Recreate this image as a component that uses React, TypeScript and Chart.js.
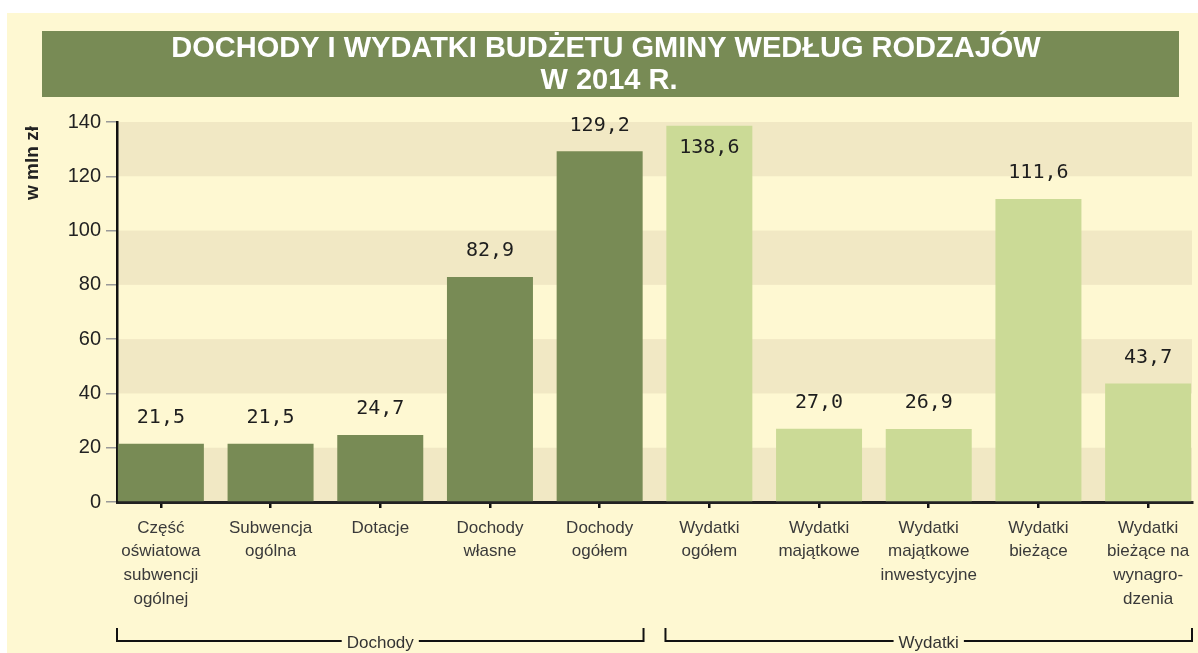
import React, { useEffect, useRef } from "react";
import { Chart, registerables } from "chart.js";

Chart.register(...registerables);

const titleLines = ["DOCHODY I WYDATKI BUDŻETU GMINY WEDŁUG RODZAJÓW", "W 2014 R."];
const categories: string[][] = [
  ["Część", "oświatowa", "subwencji", "ogólnej"],
  ["Subwencja", "ogólna"],
  ["Dotacje"],
  ["Dochody", "własne"],
  ["Dochody", "ogółem"],
  ["Wydatki", "ogółem"],
  ["Wydatki", "majątkowe"],
  ["Wydatki", "majątkowe", "inwestycyjne"],
  ["Wydatki", "bieżące"],
  ["Wydatki", "bieżące na", "wynagro-", "dzenia"],
];
const values = [21.5, 21.5, 24.7, 82.9, 129.2, 138.6, 27.0, 26.9, 111.6, 43.7];
const valueLabels = ["21,5", "21,5", "24,7", "82,9", "129,2", "138,6", "27,0", "26,9", "111,6", "43,7"];
const groupNames = ["Dochody", "Wydatki"];
const groupOf = [0, 0, 0, 0, 0, 1, 1, 1, 1, 1];
const yMin = 0;
const yMax = 140;
const yStep = 20;
const yTitle = "w mln zł";

const DARK = "#788B55";
const LIGHT = "#CBDA96";
const CREAM = "#FEF8D2";
const BAND = "#F1E8C4";

export default function App() {
  const ref = useRef<HTMLCanvasElement | null>(null);
  useEffect(() => {
    const canvas = ref.current!;
    const decor = {
      id: "decor",
      beforeDraw(chart: any) {
        const ctx = chart.ctx;
        const { left, right } = chart.chartArea;
        const y = chart.scales.y;
        ctx.save();
        ctx.fillStyle = "#ffffff";
        ctx.fillRect(0, 0, chart.width, chart.height);
        ctx.fillStyle = CREAM;
        ctx.fillRect(7, 13, chart.width - 7, chart.height - 13);
        // banner
        ctx.fillStyle = DARK;
        ctx.fillRect(42, 31, 1137, 66);
        ctx.fillStyle = "#ffffff";
        ctx.font = "bold 29px 'Liberation Sans', Arial, sans-serif";
        ctx.textAlign = "center";
        ctx.textBaseline = "middle";
        ctx.fillText(titleLines[0], 606, 49);
        ctx.fillText(titleLines[1], 609, 81);
        // bands
        ctx.fillStyle = BAND;
        for (let v = yMin; v < yMax; v += 2 * yStep) {
          const y0 = y.getPixelForValue(v);
          const y1 = y.getPixelForValue(v + yStep);
          ctx.fillRect(left, y1, right - left, y0 - y1);
        }
        ctx.restore();
      },
      afterDraw(chart: any) {
        const ctx = chart.ctx;
        const x = chart.scales.x;
        const area = chart.chartArea;
        const meta = chart.getDatasetMeta(0);
        ctx.save();
        // value labels
        ctx.font = "20px 'DejaVu Sans Mono', monospace";
        ctx.fillStyle = "#1e1e1e";
        ctx.textAlign = "center";
        ctx.textBaseline = "middle";
        meta.data.forEach((bar: any, i: number) => {
          const inside = bar.y - 35 < area.top - 10;
          const ly = inside ? bar.y + 22 : bar.y - 26;
          ctx.fillText(valueLabels[i], bar.x, ly);
        });
        // group brackets
        ctx.strokeStyle = "#111";
        ctx.lineWidth = 2;
        ctx.font = "17px 'Liberation Sans', Arial, sans-serif";
        ctx.fillStyle = "#333";
        const by = 641;
        groupNames.forEach((name, g) => {
          const idx = groupOf.map((gg, i) => (gg === g ? i : -1)).filter((i) => i >= 0);
          const x0 = x.getPixelForValue(idx[0] - 0.4);
          const x1 = x.getPixelForValue(idx[idx.length - 1] + 0.4);
          const cx = (x0 + x1) / 2;
          const tw = ctx.measureText(name).width;
          ctx.beginPath();
          ctx.moveTo(x0, 628);
          ctx.lineTo(x0, by);
          ctx.lineTo(cx - tw / 2 - 5, by);
          ctx.moveTo(cx + tw / 2 + 5, by);
          ctx.lineTo(x1, by);
          ctx.lineTo(x1, 628);
          ctx.stroke();
          ctx.fillText(name, cx, by + 2);
        });
        // y title
        ctx.translate(33, 163);
        ctx.rotate(-Math.PI / 2);
        ctx.font = "bold 19px 'Liberation Sans', Arial, sans-serif";
        ctx.fillStyle = "#222";
        ctx.fillText(yTitle, 0, 0);
        ctx.restore();
      },
    };
    const chart = new Chart(canvas, {
      type: "bar",
      data: {
        datasets: [
          {
            data: values.map((v, i) => ({ x: i, y: v })),
            backgroundColor: groupOf.map((g) => (g === 0 ? DARK : LIGHT)),
            barPercentage: 0.784,
            categoryPercentage: 1,
            borderWidth: 0,
          },
        ],
      },
      options: {
        responsive: false,
        animation: false,
        layout: { padding: { top: 122, left: 0, right: 6, bottom: 0 } },
        plugins: { legend: { display: false }, tooltip: { enabled: false }, title: { display: false } },
        scales: {
          x: {
            type: "linear",
            min: -0.4,
            max: 9.4,
            offset: false,
            afterBuildTicks: (s: any) => {
              s.ticks = categories.map((_, i) => ({ value: i }));
            },
            afterFit: (s: any) => {
              s.height = 151;
            },
            ticks: {
              autoSkip: false,
              maxRotation: 0,
              minRotation: 0,
              padding: 8,
              color: "#3a3a3a",
              font: { family: "'Liberation Sans', Arial, sans-serif", size: 17, lineHeight: 1.4 },
              callback: (v: any) => categories[Math.round(Number(v))],
            },
            grid: { offset: false, drawOnChartArea: false, drawTicks: true, tickLength: 6, color: "#111", lineWidth: 2.5 },
            border: { color: "#222", width: 3 },
          },
          y: {
            min: yMin,
            max: yMax,
            afterFit: (s: any) => {
              s.width = 117;
            },
            ticks: {
              stepSize: yStep,
              padding: 5,
              color: "#222",
              font: { family: "'Liberation Sans', Arial, sans-serif", size: 20 },
            },
            grid: { drawOnChartArea: false, drawTicks: true, tickLength: 11, color: "#999", lineWidth: 1.5 },
            border: { color: "#111", width: 2.5 },
          },
        },
      },
      plugins: [decor],
    } as any);
    return () => chart.destroy();
  }, []);
  return (
    <div style={{ position: "fixed", left: 0, top: 0, width: 1198, height: 653 }}>
      <canvas ref={ref} width={1198} height={653} style={{ display: "block" }} />
    </div>
  );
}
